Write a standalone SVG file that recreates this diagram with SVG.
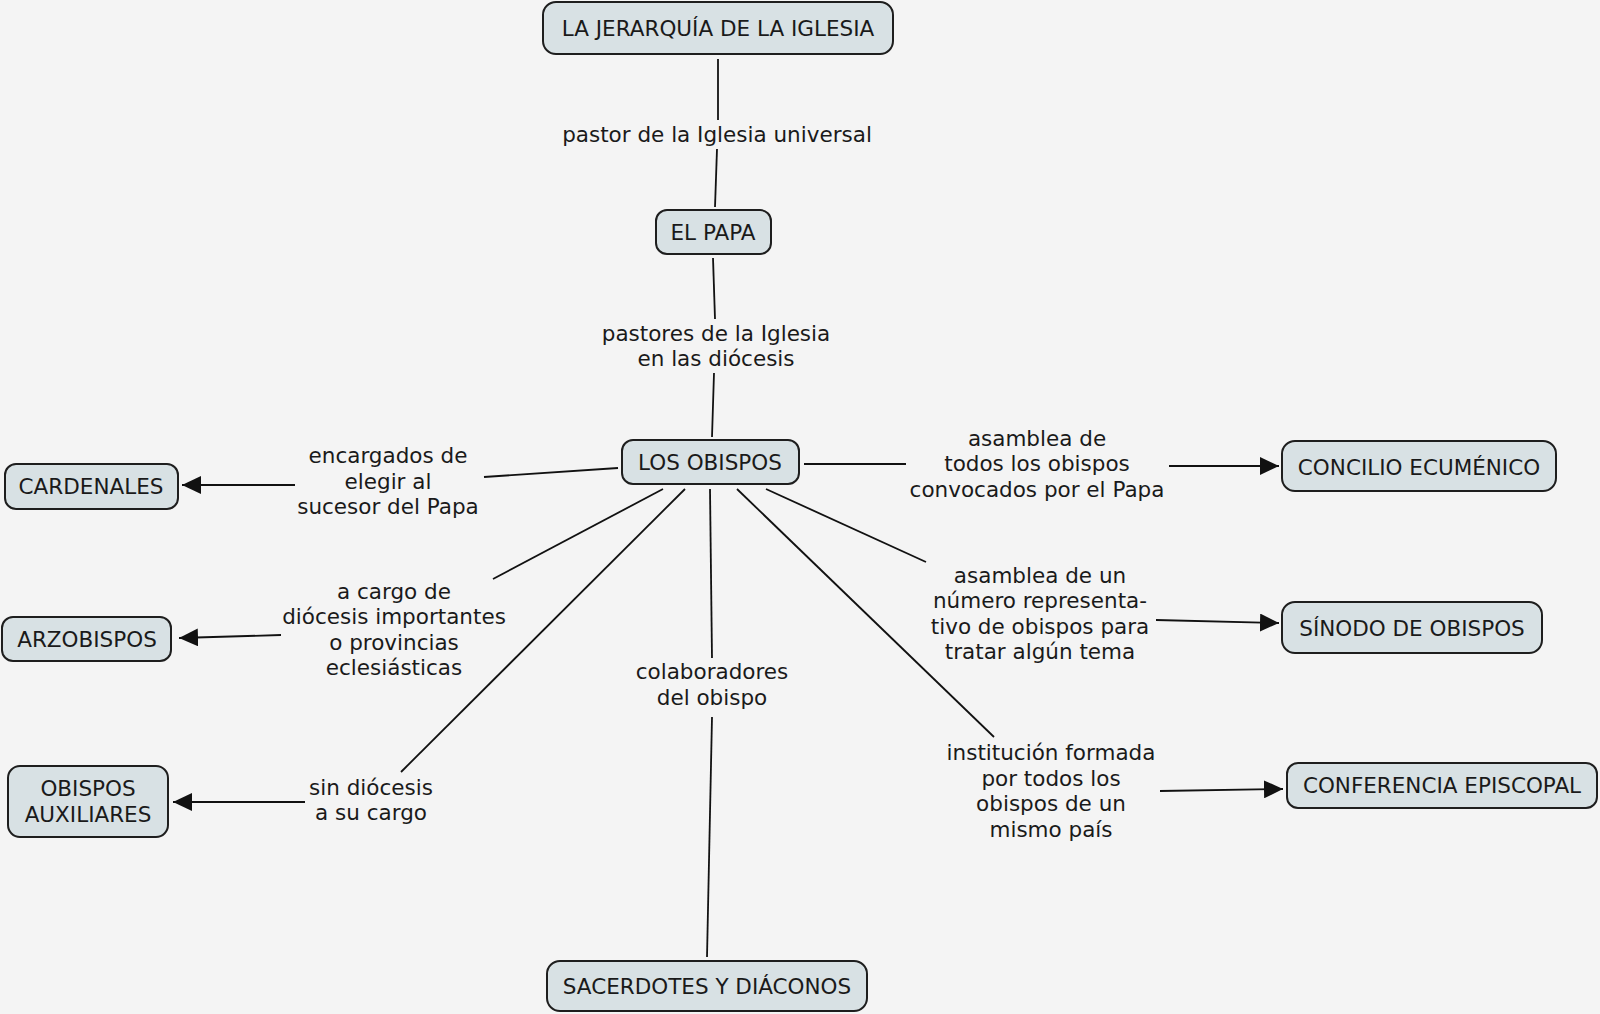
<svg xmlns="http://www.w3.org/2000/svg" width="1600" height="1014" viewBox="0 0 1600 1014">
<defs>
<marker id="arr" markerUnits="userSpaceOnUse" markerWidth="20" markerHeight="18" refX="19" refY="9" orient="auto">
<path d="M0,0 L19,9 L0,18 Z" fill="#111"/>
</marker>
<style>
.node rect{fill:#d8e1e4;stroke:#1e1e1e;stroke-width:2}
text{font-family:"DejaVu Sans","Verdana",sans-serif;font-size:21.5px;fill:#1a1a1a;text-anchor:middle}
#connectors line{stroke:#111;stroke-width:1.8;fill:none}
.a{marker-end:url(#arr)}
</style>
</defs>
<rect width="1600" height="1014" fill="#f4f4f4"/>
<g id="connectors">
<line x1="718" y1="59" x2="718" y2="120"/>
<line x1="717" y1="149" x2="715" y2="207"/>
<line x1="713" y1="258" x2="715" y2="319"/>
<line x1="714" y1="373" x2="712" y2="437"/>
<line x1="618" y1="468" x2="484" y2="477"/>
<line class="a" x1="295" y1="485" x2="182" y2="485"/>
<line x1="663" y1="489" x2="493" y2="579"/>
<line class="a" x1="281" y1="635" x2="179" y2="638"/>
<line x1="685" y1="489" x2="401" y2="772"/>
<line class="a" x1="305" y1="802" x2="173" y2="802"/>
<line x1="710" y1="489" x2="712" y2="658"/>
<line x1="712" y1="717" x2="707" y2="957"/>
<line x1="804" y1="464" x2="906" y2="464"/>
<line class="a" x1="1169" y1="466" x2="1279" y2="466"/>
<line x1="766" y1="489" x2="926" y2="562"/>
<line class="a" x1="1156" y1="620" x2="1279" y2="623"/>
<line x1="737" y1="489" x2="994" y2="737"/>
<line class="a" x1="1160" y1="791" x2="1283" y2="789"/>
</g>
<g id="labels">
<text x="717" y="142">pastor de la Iglesia universal</text>
<text x="716" y="341">pastores de la Iglesia</text>
<text x="716" y="366">en las diócesis</text>
<text x="388" y="463">encargados de</text>
<text x="388" y="489">elegir al</text>
<text x="388" y="514">sucesor del Papa</text>
<text x="394" y="599">a cargo de</text>
<text x="394" y="624">diócesis importantes</text>
<text x="394" y="650">o provincias</text>
<text x="394" y="675">eclesiásticas</text>
<text x="371" y="795">sin diócesis</text>
<text x="371" y="820">a su cargo</text>
<text x="712" y="679">colaboradores</text>
<text x="712" y="705">del obispo</text>
<text x="1037" y="446">asamblea de</text>
<text x="1037" y="471">todos los obispos</text>
<text x="1037" y="497">convocados por el Papa</text>
<text x="1040" y="583">asamblea de un</text>
<text x="1040" y="608">número representa-</text>
<text x="1040" y="634">tivo de obispos para</text>
<text x="1040" y="659">tratar algún tema</text>
<text x="1051" y="760">institución formada</text>
<text x="1051" y="786">por todos los</text>
<text x="1051" y="811">obispos de un</text>
<text x="1051" y="837">mismo país</text>
</g>
<g id="n-jerarquia" class="node"><rect x="543" y="2" width="350" height="52" rx="13"/><text x="718" y="36">LA JERARQUÍA DE LA IGLESIA</text></g>
<g id="n-papa" class="node"><rect x="656" y="210" width="115" height="44" rx="11"/><text x="713" y="240">EL PAPA</text></g>
<g id="n-obispos" class="node"><rect x="622" y="440" width="177" height="44" rx="11"/><text x="710" y="470">LOS OBISPOS</text></g>
<g id="n-cardenales" class="node"><rect x="5" y="464" width="173" height="45" rx="11"/><text x="91" y="494">CARDENALES</text></g>
<g id="n-arzobispos" class="node"><rect x="2" y="617" width="169" height="44" rx="11"/><text x="87" y="647">ARZOBISPOS</text></g>
<g id="n-auxiliares" class="node"><rect x="8" y="766" width="160" height="71" rx="12"/><text x="88" y="796">OBISPOS</text><text x="88" y="822">AUXILIARES</text></g>
<g id="n-sacerdotes" class="node"><rect x="547" y="961" width="320" height="50" rx="13"/><text x="707" y="994">SACERDOTES Y DIÁCONOS</text></g>
<g id="n-concilio" class="node"><rect x="1282" y="441" width="274" height="50" rx="13"/><text x="1419" y="475">CONCILIO ECUMÉNICO</text></g>
<g id="n-sinodo" class="node"><rect x="1282" y="602" width="260" height="51" rx="13"/><text x="1412" y="636">SÍNODO DE OBISPOS</text></g>
<g id="n-conferencia" class="node"><rect x="1287" y="763" width="310" height="45" rx="11"/><text x="1442" y="793">CONFERENCIA EPISCOPAL</text></g>
</svg>
